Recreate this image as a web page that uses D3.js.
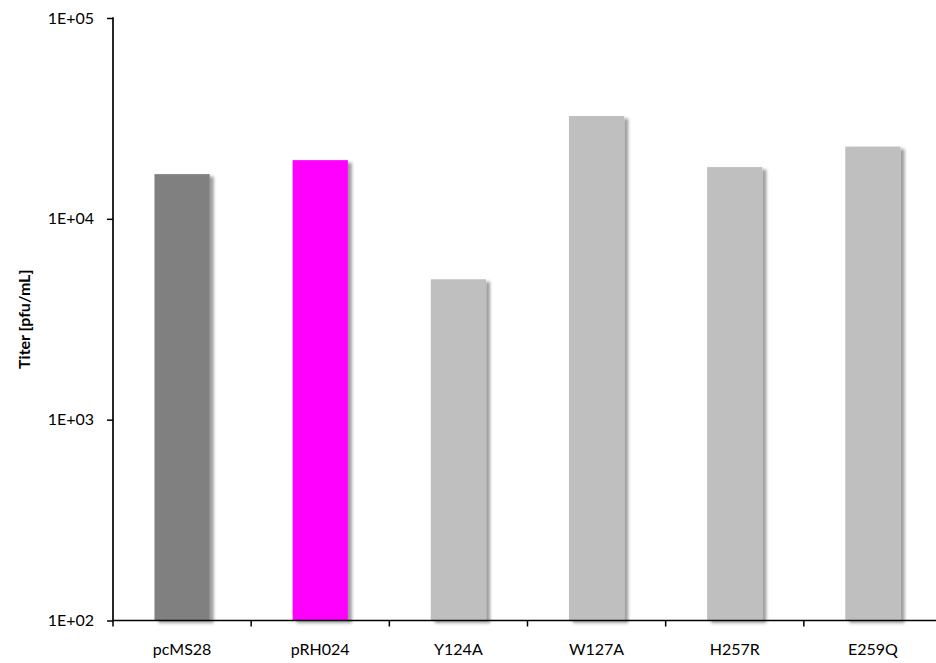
<!DOCTYPE html>
<html>
<head>
<meta charset="utf-8">
<script src="https://cdn.jsdelivr.net/npm/d3@7"></script>
<style>
  html, body { margin: 0; padding: 0; background: #fff; }
  svg { display: block; }
  text { font-family: Lato, "Open Sans", sans-serif; fill: #000; }
</style>
</head>
<body>
<svg id="chart" width="936" height="663"></svg>
<script>
// Plasmid / mutant names and their titers
const categories = ["pcMS28", "pRH024", "Y124A", "W127A", "H257R", "E259Q"];
const titers = [16700, 19600, 5000, 32500, 18100, 22900];
const barColors = ["#808080", "#FF00FF", "#BFBFBF", "#BFBFBF", "#BFBFBF", "#BFBFBF"];
const yTicks = [1e2, 1e3, 1e4, 1e5];
const yTitle = "Titer [pfu/mL]";

const svg = d3.select("#chart");
const plotLeft = 113, plotRight = 942, plotTop = 18, plotBottom = 620.5;
const fontSize = "16px";

const defs = svg.append("defs");
const f = defs.append("filter").attr("id", "shadow")
  .attr("x", "-10%").attr("y", "-10%").attr("width", "130%").attr("height", "120%");
f.append("feDropShadow").attr("dx", 4).attr("dy", 2.5)
  .attr("stdDeviation", 1.6).attr("flood-color", "#000").attr("flood-opacity", 0.38);

const x = d3.scaleBand().domain(categories).range([plotLeft, plotRight]).paddingInner(0.6).paddingOuter(0.3);
const y = d3.scaleLog().domain([1e2, 1e5]).range([plotBottom, plotTop]);

// Bars
svg.append("g").selectAll("rect")
  .data(categories)
  .join("rect")
  .attr("x", d => x(d))
  .attr("width", x.bandwidth())
  .attr("y", (d, i) => y(titers[i]))
  .attr("height", (d, i) => plotBottom - y(titers[i]))
  .attr("fill", (d, i) => barColors[i])
  .attr("filter", "url(#shadow)");

// Y axis
const yAxis = d3.axisLeft(y).tickValues(yTicks).tickSize(6).tickPadding(13)
  .tickFormat(d => "1E+" + String(Math.round(Math.log10(d))).padStart(2, "0"));
const gy = svg.append("g").attr("transform", `translate(${plotLeft},0)`).call(yAxis);
gy.select(".domain").remove();
gy.selectAll(".tick line").attr("stroke", "#000").attr("stroke-width", 1.5);
gy.selectAll(".tick text").style("font-size", fontSize).style("font-family", "Lato, 'Open Sans', sans-serif").attr("fill", "#000");
svg.append("line").attr("x1", plotLeft).attr("x2", plotLeft).attr("y1", plotTop - 0.75).attr("y2", plotBottom + 0.75)
  .attr("stroke", "#000").attr("stroke-width", 1.7);

// X axis: ticks at category boundaries
svg.append("line").attr("x1", plotLeft).attr("x2", plotRight).attr("y1", plotBottom).attr("y2", plotBottom)
  .attr("stroke", "#000").attr("stroke-width", 1.7);
const bounds = d3.range(categories.length + 1).map(i => plotLeft + i * (plotRight - plotLeft) / categories.length);
svg.append("g").selectAll("line").data(bounds).join("line")
  .attr("x1", d => d).attr("x2", d => d).attr("y1", plotBottom).attr("y2", plotBottom + 6)
  .attr("stroke", "#000").attr("stroke-width", 1.5);
svg.append("g").selectAll("text").data(categories).join("text")
  .attr("x", d => x(d) + x.bandwidth() / 2)
  .attr("y", 655)
  .attr("text-anchor", "middle")
  .style("font-size", fontSize)
  .text(d => d);

// Y title
svg.append("text")
  .attr("transform", `translate(30,${(plotTop + plotBottom) / 2}) rotate(-90)`)
  .attr("text-anchor", "middle")
  .style("font-size", fontSize)
  .style("font-weight", "bold")
  .text(yTitle);
</script>
</body>
</html>
